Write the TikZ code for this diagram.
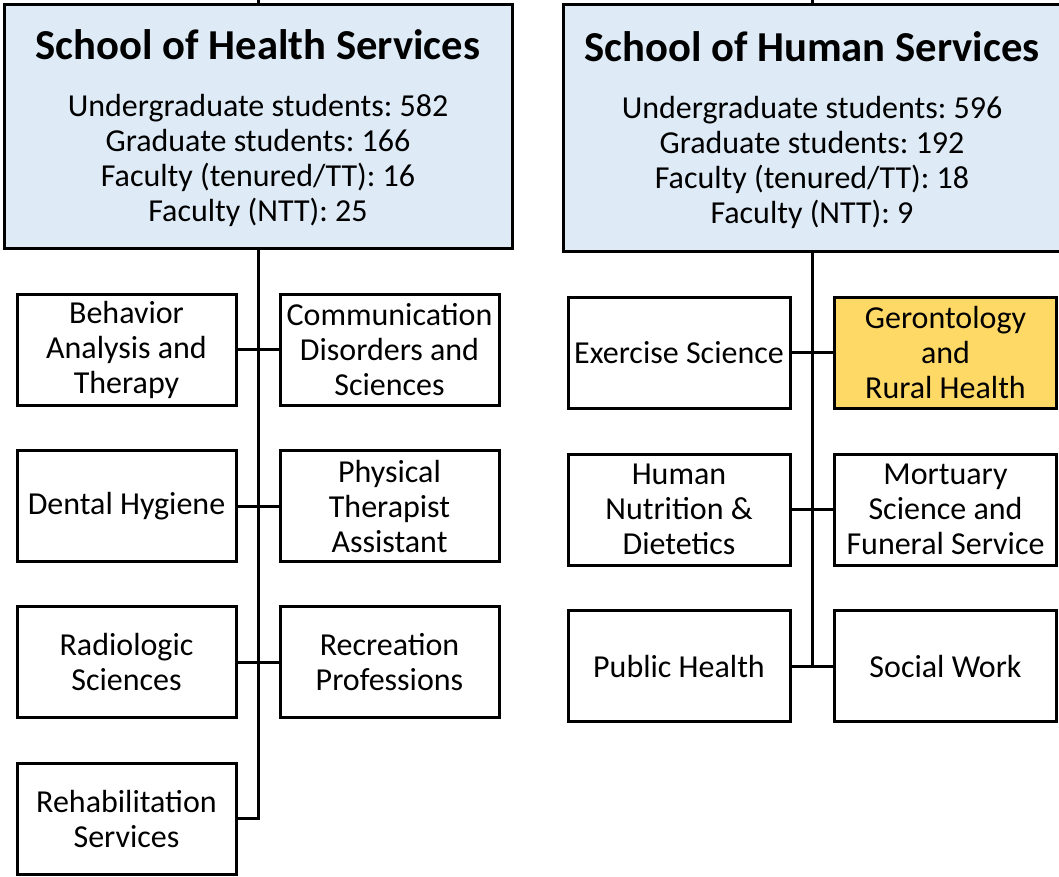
\documentclass[tikz,border=0pt]{standalone}
\usepackage{fontspec}
\setmainfont{Carlito}
\frenchspacing
\definecolor{schoolblue}{HTML}{DEEBF7}
\definecolor{deptgold}{HTML}{FFD966}
\newcommand{\bodysize}{\fontsize{24}{26.25}\selectfont}
\newcommand{\titlesize}{\fontsize{32}{38}\selectfont\bfseries\rule{0pt}{26pt}}

\begin{document}
\begin{tikzpicture}[x=0.75pt, y=-0.75pt,
    school/.style={draw=black, line width=2.25pt, fill=schoolblue, align=center, inner sep=0pt, font=\bodysize},
    dept/.style={draw=black, line width=2.25pt, fill=white, align=center, inner sep=0pt, minimum height=83.25pt, font=\bodysize},
    link/.style={line width=2.25pt}]
    \clip (0,0) rectangle (1059,876);

    % School of Health Services
    \node[school, minimum width=381pt, minimum height=183pt] (hs) at (258,126)
        {{\titlesize School of Health Services}\\[16.5pt]
         Undergraduate students: 582\\ Graduate students: 166\\
         Faculty (tenured/TT): 16\\ Faculty (NTT): 25};
    \coordinate (hstop) at (258,-5);

    % School of Human Services
    \node[school, minimum width=373.5pt, minimum height=185.25pt] (hm) at (812,127.5)
        {{\titlesize School of Human Services}\\[16.5pt]
         Undergraduate students: 596\\ Graduate students: 192\\
         Faculty (tenured/TT): 18\\ Faculty (NTT): 9};
    \coordinate (hmtop) at (812,-5);

    % Departments, health
    \node[dept, minimum width=164.25pt] (bat) at (126.5,349.5) {Behavior\\ Analysis and\\ Therapy};
    \node[dept, minimum width=164.25pt] (cds) at (389.5,349.5) {Communication\\ Disorders and\\ Sciences};
    \node[dept, minimum width=164.25pt] (dh) at (126.5,506) {Dental Hygiene};
    \node[dept, minimum width=164.25pt] (pta) at (389.5,506) {Physical\\ Therapist\\ Assistant};
    \node[dept, minimum width=164.25pt] (rad) at (126.5,662) {Radiologic\\ Sciences};
    \node[dept, minimum width=164.25pt] (rec) at (389.5,662) {Recreation\\ Professions};
    \node[dept, minimum width=164.25pt] (rs) at (126.5,818.5) {Rehabilitation\\ Services};

    % Departments, human
    \node[dept, minimum width=166.5pt] (ex) at (679,352.5) {Exercise Science};
    \node[dept, minimum width=166.5pt, fill=deptgold] (ger) at (945.5,352.5) {Gerontology\\ and\\ Rural Health};
    \node[dept, minimum width=166.5pt] (hn) at (679,509.5) {Human\\ Nutrition \&\\ Dietetics};
    \node[dept, minimum width=166.5pt] (ms) at (945.5,509.5) {Mortuary\\ Science and\\ Funeral Service};
    \node[dept, minimum width=166.5pt] (ph) at (679,666) {Public Health};
    \node[dept, minimum width=166.5pt] (sw) at (945.5,666) {Social Work};

    % Lines, health
    \draw[link] (hs.north) -- (hstop);
    \draw[link] (hs.south) -- (hs.south |- rs.east) -- (rs.east);
    \draw[link] (bat.east) -- (cds.west);
    \draw[link] (dh.east) -- (pta.west);
    \draw[link] (rad.east) -- (rec.west);

    % Lines, human
    \draw[link] (hm.north) -- (hmtop);
    \draw[link] (hm.south) -- (hm.south |- ph.east);
    \draw[link] (ex.east) -- (ger.west);
    \draw[link] (hn.east) -- (ms.west);
    \draw[link] (ph.east) -- (sw.west);
\end{tikzpicture}
\end{document}
